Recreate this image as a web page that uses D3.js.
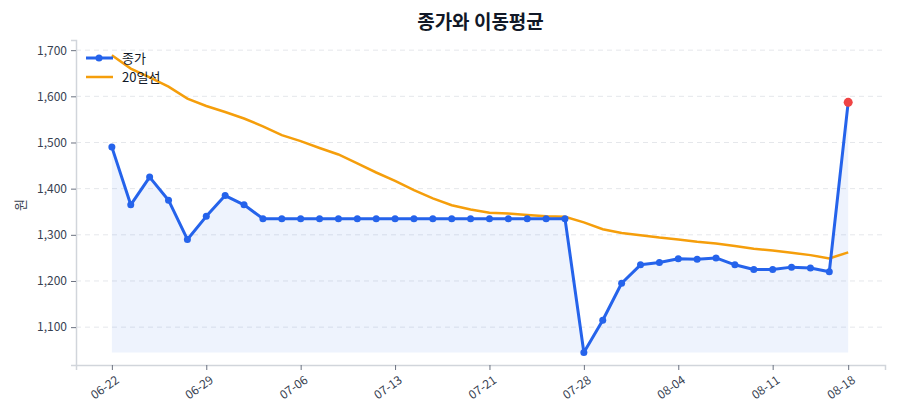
<!DOCTYPE html>
<html>
<head>
<meta charset="utf-8">
<script src="https://cdn.jsdelivr.net/npm/d3@7"></script>
<style>
  body { margin: 0; background: #fff; }
  text { font-family: "Noto Sans CJK KR", "Noto Sans", sans-serif; }
</style>
</head>
<body>
<div id="chart"></div>
<script>
// trading days (weekends / holidays skipped)
const dates = [
    "06-22", "06-23", "06-24", "06-25", "06-26",
    "06-29", "06-30", "07-01", "07-02", "07-03",
    "07-06", "07-07", "07-08", "07-09", "07-10",
    "07-13", "07-14", "07-15", "07-16", "07-17",
    "07-21", "07-22", "07-23", "07-24", "07-27",
    "07-28", "07-29", "07-30", "07-31", "08-03",
    "08-04", "08-05", "08-06", "08-07", "08-10",
    "08-11", "08-12", "08-13", "08-14", "08-18"
];

const close = [
    1490, 1365, 1425, 1375, 1290, 1340, 1385, 1365, 1335, 1335,
    1335, 1335, 1335, 1335, 1335, 1335, 1335, 1335, 1335, 1335,
    1335, 1335, 1335, 1335, 1335, 1045, 1115, 1195, 1235, 1240,
    1248, 1247, 1250, 1235, 1225, 1225, 1230, 1228, 1220, 1587
];

const ma20 = [
    1689, 1660, 1641, 1621, 1595, 1579, 1566, 1552, 1535, 1516,
    1503, 1488, 1474, 1455, 1435, 1417, 1397, 1379, 1364, 1355,
    1348, 1346, 1343, 1340, 1339, 1327, 1312, 1304, 1299, 1294,
    1290, 1285, 1281, 1276, 1270, 1266, 1261, 1256, 1249, 1262
];

const yTicks = [1100, 1200, 1300, 1400, 1500, 1600, 1700];
const xTickIdx = [0, 5, 10, 15, 20, 25, 30, 35, 39];

const W = 900, H = 420;
const margin = { top: 40, right: 15, bottom: 55, left: 76 };
const width = W - margin.left - margin.right;
const height = H - margin.top - margin.bottom;

const svg = d3.select("#chart")
    .append("svg")
    .attr("width", W)
    .attr("height", H);

const g = svg.append("g")
    .attr("transform", `translate(${margin.left},${margin.top})`);

const x = d3.scaleLinear()
    .domain([-1.9, 40.95])
    .range([0, width]);

const y = d3.scaleLinear()
    .domain([1018, 1722])
    .range([height, 0]);

// grid
g.append("g")
    .selectAll("line")
    .data(yTicks)
    .join("line")
    .attr("x1", 0)
    .attr("x2", width)
    .attr("y1", d => y(d))
    .attr("y2", d => y(d))
    .attr("stroke", "#e5e7eb")
    .attr("stroke-dasharray", "5,4");

// area under close
const minClose = d3.min(close);
const area = d3.area()
    .x((d, i) => x(i))
    .y0(y(minClose))
    .y1(d => y(d));

g.append("path")
    .datum(close)
    .attr("d", area)
    .attr("fill", "#2563eb")
    .attr("fill-opacity", 0.08);

// moving average
const line = d3.line()
    .x((d, i) => x(i))
    .y(d => y(d));

g.append("path")
    .datum(ma20)
    .attr("d", line)
    .attr("fill", "none")
    .attr("stroke", "#f59e0b")
    .attr("stroke-width", 2.5);

// close line
g.append("path")
    .datum(close)
    .attr("d", line)
    .attr("fill", "none")
    .attr("stroke", "#2563eb")
    .attr("stroke-width", 3)
    .attr("stroke-linejoin", "round");

g.append("g")
    .selectAll("circle")
    .data(close)
    .join("circle")
    .attr("cx", (d, i) => x(i))
    .attr("cy", d => y(d))
    .attr("r", (d, i) => i === close.length - 1 ? 4.5 : 3.5)
    .attr("fill", (d, i) => i === close.length - 1 ? "#ef4444" : "#2563eb");

// axes
const xAxis = g.append("g")
    .attr("transform", `translate(0,${height})`)
    .call(d3.axisBottom(x)
        .tickValues(xTickIdx)
        .tickFormat(i => dates[i])
        .tickSize(5)
        .tickPadding(6));

xAxis.selectAll("text")
    .attr("transform", "rotate(-35)")
    .attr("dx", "-0.3em")
    .attr("dy", "0.6em")
    .style("text-anchor", "end");

const yAxis = g.append("g")
    .call(d3.axisLeft(y)
        .tickValues(yTicks)
        .tickFormat(d3.format(","))
        .tickSize(5)
        .tickPadding(4));

[xAxis, yAxis].forEach(a => {
    a.select(".domain").attr("stroke", "#d1d5db").attr("stroke-width", 1.5);
    a.selectAll(".tick line").attr("stroke", "#6b7280");
    a.selectAll("text")
        .attr("fill", "#374151")
        .style("font-size", "12px")
        .style("font-family", "'Noto Sans CJK KR', 'Noto Sans', sans-serif");
});

// y label
svg.append("text")
    .attr("transform", "rotate(-90)")
    .attr("x", -205)
    .attr("y", 25)
    .attr("text-anchor", "middle")
    .attr("fill", "#374151")
    .style("font-size", "13px")
    .text("원");

// title
svg.append("text")
    .attr("x", margin.left + width / 2)
    .attr("y", 29)
    .attr("text-anchor", "middle")
    .attr("fill", "#111827")
    .style("font-size", "19px")
    .style("font-weight", "bold")
    .text("종가와 이동평균");

// legend
const legend = svg.append("g").attr("transform", "translate(86,58)");

legend.append("line")
    .attr("x1", 0).attr("x2", 27).attr("y1", 0).attr("y2", 0)
    .attr("stroke", "#2563eb").attr("stroke-width", 3);
legend.append("circle")
    .attr("cx", 13).attr("cy", 0).attr("r", 3.5).attr("fill", "#2563eb");
legend.append("text")
    .attr("x", 36).attr("y", 0).attr("dy", "0.35em")
    .attr("fill", "#111827").style("font-size", "13px")
    .text("종가");

legend.append("line")
    .attr("x1", 0).attr("x2", 27).attr("y1", 19).attr("y2", 19)
    .attr("stroke", "#f59e0b").attr("stroke-width", 2.5);
legend.append("text")
    .attr("x", 36).attr("y", 19).attr("dy", "0.35em")
    .attr("fill", "#111827").style("font-size", "13px")
    .text("20일선");
</script>
</body>
</html>
